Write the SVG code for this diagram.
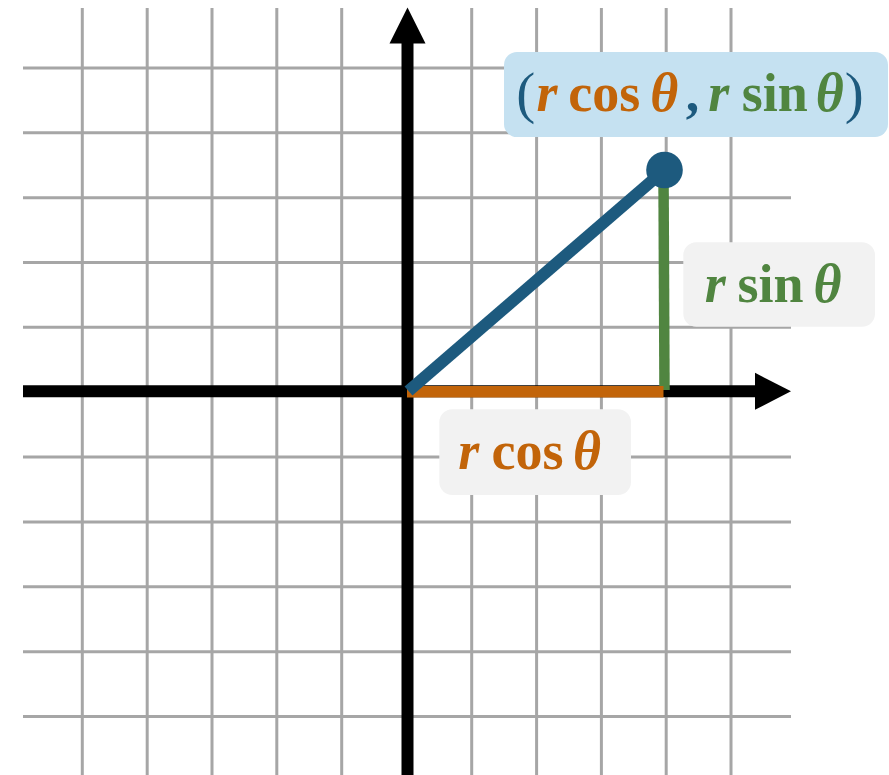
<svg xmlns="http://www.w3.org/2000/svg" width="889" height="775" viewBox="0 0 889 775">
  <style>
    .grid line { stroke: #A6A6A6; stroke-width: 3; }
    .axis { stroke: #000; stroke-width: 12; }
    .math { font-family: "Liberation Serif", "Times New Roman", serif; font-weight: bold; font-size: 54px; text-anchor: middle; }
    .it { font-style: italic; }
    .paren { font-weight: normal; font-size: 57px; }
    .orange { fill: #C26409; }
    .green { fill: #508540; }
    .blue { fill: #1D5A7E; }
  </style>
  <rect width="889" height="775" fill="#FFFFFF"/>
  <g id="grid" class="grid">
    <line x1="82.3" y1="8" x2="82.3" y2="775"/>
    <line x1="147.2" y1="8" x2="147.2" y2="775"/>
    <line x1="212" y1="8" x2="212" y2="775"/>
    <line x1="276.8" y1="8" x2="276.8" y2="775"/>
    <line x1="341.7" y1="8" x2="341.7" y2="775"/>
    <line x1="471.7" y1="8" x2="471.7" y2="775"/>
    <line x1="536.6" y1="8" x2="536.6" y2="775"/>
    <line x1="601.4" y1="8" x2="601.4" y2="775"/>
    <line x1="666.2" y1="8" x2="666.2" y2="775"/>
    <line x1="731" y1="8" x2="731" y2="775"/>
    <line x1="23" y1="68" x2="791" y2="68"/>
    <line x1="23" y1="132.8" x2="791" y2="132.8"/>
    <line x1="23" y1="197.7" x2="791" y2="197.7"/>
    <line x1="23" y1="262.4" x2="791" y2="262.4"/>
    <line x1="23" y1="327.3" x2="791" y2="327.3"/>
    <line x1="23" y1="457" x2="791" y2="457"/>
    <line x1="23" y1="521.9" x2="791" y2="521.9"/>
    <line x1="23" y1="586.8" x2="791" y2="586.8"/>
    <line x1="23" y1="651.7" x2="791" y2="651.7"/>
    <line x1="23" y1="716.6" x2="791" y2="716.6"/>
  </g>
  <g id="axes">
    <line class="axis" x1="407.5" y1="40" x2="407.5" y2="775"/>
    <polygon points="407.5,7.5 425.5,43.5 389.5,43.5" fill="#000"/>
    <line class="axis" x1="23" y1="391.3" x2="758" y2="391.3"/>
    <polygon points="791,391.3 755,372.8 755,409.8" fill="#000"/>
  </g>
  <g id="connectors">
    <line id="sin-segment" x1="663.5" y1="172" x2="664.5" y2="390" stroke="#508540" stroke-width="10.5"/>
    <line id="cos-segment" x1="407" y1="391.7" x2="663.5" y2="391.7" stroke="#C26409" stroke-width="11.5"/>
    <line id="radius" x1="408.5" y1="391" x2="664.5" y2="170" stroke="#1D5A7E" stroke-width="12"/>
  </g>
  <g id="point">
    <circle cx="664.5" cy="170" r="18.3" fill="#1D5A7E"/>
  </g>
  <g id="label-point">
    <rect x="504" y="52" width="384" height="85" rx="13" fill="#C5E1F1"/>
    <text class="math paren blue" x="525.8" y="112">(</text>
    <text class="math it orange" x="547" y="111">r</text>
    <text class="math orange" x="604.3" y="111">cos</text>
    <text class="math it orange" x="664.2" y="111">θ</text>
    <text class="math blue" x="692.5" y="111">,</text>
    <text class="math it green" x="718.8" y="111">r</text>
    <text class="math green" x="774.8" y="111">sin</text>
    <text class="math it green" x="829.8" y="111">θ</text>
    <text class="math paren blue" x="854.2" y="112">)</text>
  </g>
  <g id="label-sin">
    <rect x="683.3" y="242.3" width="191.7" height="84.4" rx="13" fill="#F2F2F2"/>
    <text class="math it green" x="715.3" y="301.7">r</text>
    <text class="math green" x="770.5" y="301.7">sin</text>
    <text class="math it green" x="827.5" y="301.7">θ</text>
  </g>
  <g id="label-cos">
    <rect x="439.3" y="409.3" width="191.7" height="85.7" rx="13" fill="#F2F2F2"/>
    <text class="math it orange" x="468.8" y="469.3">r</text>
    <text class="math orange" x="527.5" y="469.3">cos</text>
    <text class="math it orange" x="587" y="469.3">θ</text>
  </g>
</svg>
